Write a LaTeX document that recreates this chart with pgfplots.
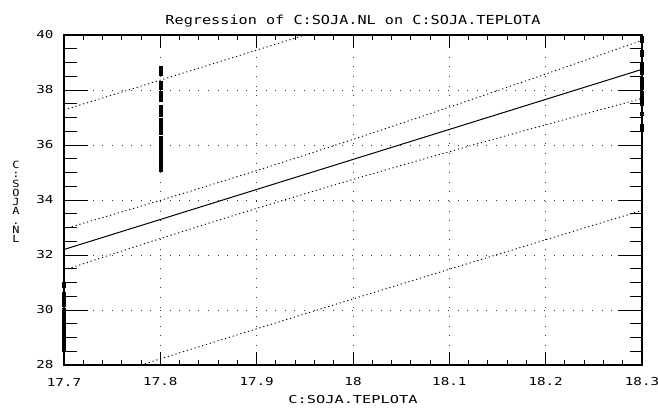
\documentclass[border=0pt]{standalone}
\usepackage{fontspec}
\usepackage{pgfplots}
\pgfplotsset{compat=1.18}
\setmainfont{DejaVu Sans Mono}[FakeStretch=1.2]
\newfontfamily\titlefont{DejaVu Sans Mono}[FakeStretch=1.22]
\newfontfamily\tickfont{DejaVu Sans Mono}[FakeStretch=1.3]
\newfontfamily\labfont{DejaVu Sans Mono}[FakeStretch=1.4]
\newfontfamily\ylfont{DejaVu Sans Mono}[FakeStretch=1.2]

\begin{document}
\begin{tikzpicture}
\begin{axis}[
  name=ax,
  scale only axis, width=578bp, height=330bp,
  xmin=17.7, xmax=18.3, ymin=28, ymax=40,
  xtick={17.7,17.8,17.9,18,18.1,18.2,18.3},
  xticklabels={17.7,17.8,17.9,18,18.1,18.2,18.3},
  ytick={28,30,32,34,36,38,40},
  minor x tick num=4, minor y tick num=3,
  tick align=inside, tick pos=both,
  /pgf/number format/assume math mode=true,
  axis line style={line width=1.3bp, black},
  tick style={line width=1bp, black},
  major x tick style={/pgfplots/major tick length=13bp},
  minor x tick style={/pgfplots/minor tick length=5bp},
  major y tick style={/pgfplots/major tick length=24bp},
  minor y tick style={/pgfplots/minor tick length=12.5bp},
  grid=major,
  major grid style={black!80, line width=0.9bp, dash pattern=on 0.9bp off 8.7bp},
  ticklabel style={font=\tickfont\fontsize{11}{13}\selectfont},
  xticklabel style={anchor=center, yshift=-17bp},
  yticklabel style={anchor=east, xshift=-7bp},
  title={Regression of C:SOJA.NL on C:SOJA.TEPLOTA},
  title style={font=\titlefont\fontsize{12.5}{14}\selectfont, anchor=center, at={(axis description cs:0.5,1)}, yshift=8bp},
  xlabel={C:SOJA.TEPLOTA},
  xlabel style={font=\labfont\fontsize{11}{13}\selectfont, anchor=center, at={(axis description cs:0.5,0)}, yshift=-35bp},
  ylabel={C\\:\\S\\O\\J\\A\\.\\N\\L},
  ylabel style={rotate=-90, align=center, anchor=center, at={(axis description cs:-0.083,0.494)}, font=\ylfont\fontsize{10}{9.3}\selectfont},
  clip=false,
  band/.style={black, line width=0.9bp, dash pattern=on 1.2bp off 2.8bp},
]
% regression line
\addplot[no marks, black, line width=1bp] coordinates {(17.7,32.2) (18.3,38.75)};
% inner (confidence) band
\addplot[band, no marks] coordinates {
(17.7,32.950) (17.75,33.463) (17.8,33.987) (17.85,34.523) (17.9,35.070) (17.95,35.631)
(18.0,36.203) (18.05,36.785) (18.1,37.377) (18.15,37.976) (18.2,38.580) (18.25,39.191) (18.3,39.805)};
\addplot[band, no marks] coordinates {
(17.7,31.450) (17.75,32.029) (17.8,32.597) (17.85,33.153) (17.9,33.696) (17.95,34.227)
(18.0,34.747) (18.05,35.257) (18.1,35.757) (18.15,36.250) (18.2,36.736) (18.25,37.217) (18.3,37.695)};
% outer (prediction) band
\addplot[band, no marks] coordinates {
(17.7,37.276) (17.75,37.817) (17.8,38.360) (17.85,38.904) (17.9,39.450) (17.95,40.0)};
\addplot[band, no marks] coordinates {
(17.78,28.0) (17.8,28.224) (17.85,28.772) (17.9,29.316) (17.95,29.860) (18.0,30.403)
(18.05,30.943) (18.1,31.482) (18.15,32.019) (18.2,32.554) (18.25,33.088) (18.3,33.620)};
% observations
\addplot[only marks, mark=square*, mark size=1.6bp, black] coordinates {
(17.7,30.95) (17.7,30.9) (17.7,30.6) (17.7,30.5) (17.7,30.35) (17.7,30.25) (17.7,30.2)
(17.7,30.0) (17.7,29.9) (17.7,29.75) (17.7,29.7) (17.7,29.6) (17.7,29.5) (17.7,29.45)
(17.7,29.4) (17.7,29.3) (17.7,29.2) (17.7,29.15) (17.7,29.1) (17.7,29.0) (17.7,28.95)
(17.7,28.9) (17.7,28.8) (17.7,28.75) (17.7,28.7) (17.7,28.6) (17.7,28.55)
(17.8,38.8) (17.8,38.75) (17.8,38.65) (17.8,38.6) (17.8,38.25) (17.8,38.1) (17.8,37.9)
(17.8,37.85) (17.8,37.8) (17.8,37.7) (17.8,37.65) (17.8,37.4) (17.8,37.3) (17.8,37.2)
(17.8,37.1) (17.8,36.9) (17.8,36.85) (17.8,36.8) (17.8,36.7) (17.8,36.6) (17.8,36.5)
(17.8,36.45) (17.8,36.25) (17.8,36.2) (17.8,36.1) (17.8,36.0) (17.8,35.9) (17.8,35.8)
(17.8,35.7) (17.8,35.6) (17.8,35.5) (17.8,35.45) (17.8,35.4) (17.8,35.3) (17.8,35.2) (17.8,35.1)
(18.3,39.9) (18.3,39.8) (18.3,39.4) (18.3,39.3) (18.3,38.95) (18.3,38.9) (18.3,38.8)
(18.3,38.7) (18.3,38.65) (18.3,38.4) (18.3,38.3) (18.3,38.2) (18.3,38.1) (18.3,37.9)
(18.3,37.8) (18.3,37.7) (18.3,37.6) (18.3,37.5) (18.3,37.15) (18.3,36.7) (18.3,36.6) (18.3,36.55)};
\end{axis}
\path (ax.south west) ++(-64bp,-43bp) coordinate (bl);
\path (ax.north east) ++(16bp,35bp) coordinate (tr);
\pgfresetboundingbox
\useasboundingbox (bl) rectangle (tr);
\end{tikzpicture}
\end{document}
